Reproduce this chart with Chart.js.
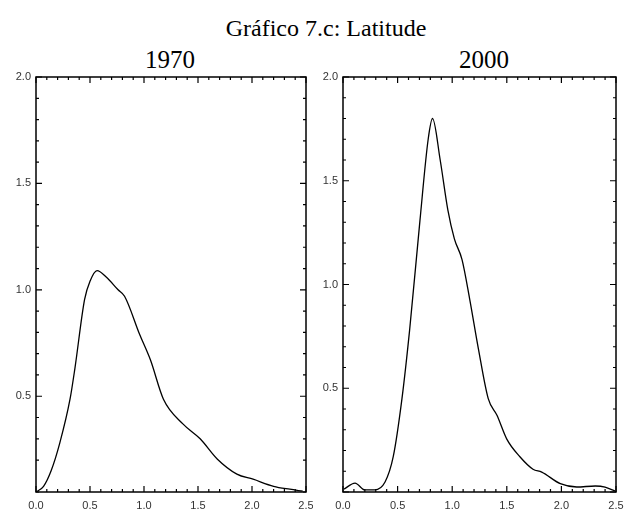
<!DOCTYPE html>
<html>
<head>
<meta charset="utf-8">
<script src="https://cdn.jsdelivr.net/npm/chart.js@4/dist/chart.umd.min.js"></script>
<style>
  body { margin: 0; background: #fff; }
  #wrap { position: relative; width: 626px; height: 510px; }
  .ttl { position: absolute; font-family: "Liberation Serif", serif; color: #000; white-space: nowrap; transform: translateX(-50%); line-height: 1; }
  canvas { position: absolute; top: 0; }
</style>
</head>
<body>
<div id="wrap">
  <div class="ttl" style="left:326px; top:16px; font-size:24px;">Gráfico 7.c: Latitude</div>
  <div class="ttl" style="left:170px; top:47px; font-size:25px;">1970</div>
  <div class="ttl" style="left:484px; top:47px; font-size:25px;">2000</div>
  <canvas id="chart-1970" width="313" height="510" style="left:0"></canvas>
  <canvas id="chart-2000" width="313" height="510" style="left:313px"></canvas>
</div>
<script>
// latitude (x) and density (y)
const lat1970 = [0.0, 0.07, 0.14, 0.22, 0.315, 0.36, 0.45, 0.5, 0.565, 0.65, 0.76, 0.82, 0.96, 1.06, 1.18, 1.36, 1.52, 1.68, 1.86, 2.01, 2.2, 2.35, 2.47];
const dens1970 = [0.05, 0.077, 0.15, 0.28, 0.486, 0.63, 0.955, 1.04, 1.09, 1.06, 1.0, 0.97, 0.79, 0.67, 0.486, 0.37, 0.30, 0.204, 0.134, 0.11, 0.077, 0.063, 0.054];

const lat2000 = [0.01, 0.11, 0.2, 0.29, 0.385, 0.46, 0.54, 0.61, 0.705, 0.78, 0.82, 0.89, 0.96, 1.02, 1.09, 1.16, 1.24, 1.33, 1.41, 1.50, 1.62, 1.74, 1.82, 1.99, 2.14, 2.31, 2.40, 2.49];
const dens2000 = [0.014, 0.043, 0.01, 0.01, 0.048, 0.17, 0.45, 0.78, 1.31, 1.70, 1.80, 1.6, 1.36, 1.22, 1.12, 0.93, 0.69, 0.45, 0.37, 0.255, 0.17, 0.11, 0.096, 0.04, 0.024, 0.029, 0.024, 0.005];

const xRange = [0, 2.5];
const yMax = 2.0;

function isMajor(v) {
    return Math.abs(v * 2 - Math.round(v * 2)) < 1e-6;
}

// IDL style box with inward ticks
const boxTicks = {
    id: 'boxTicks',
    afterDraw(chart) {
        const ctx = chart.ctx;
        const a = chart.chartArea;
        ctx.save();
        ctx.strokeStyle = '#000';
        ctx.lineWidth = 1.5;
        ctx.strokeRect(a.left, a.top, a.right - a.left, a.bottom - a.top);
        ctx.lineWidth = 1.2;
        ctx.beginPath();
        chart.scales.x.ticks.forEach(t => {
            const px = chart.scales.x.getPixelForValue(t.value);
            const len = isMajor(t.value) ? 6 : 3;
            ctx.moveTo(px, a.bottom); ctx.lineTo(px, a.bottom - len);
            ctx.moveTo(px, a.top); ctx.lineTo(px, a.top + len);
        });
        chart.scales.y.ticks.forEach(t => {
            const py = chart.scales.y.getPixelForValue(t.value);
            const len = isMajor(t.value) ? 6 : 3;
            ctx.moveTo(a.left, py); ctx.lineTo(a.left + len, py);
            ctx.moveTo(a.right, py); ctx.lineTo(a.right - len, py);
        });
        ctx.stroke();
        ctx.restore();
    }
};

function d2c_densityChart(id, xs, ys, yMin, axisW, padRight) {
    const el = document.getElementById(id);
    new Chart(el, {
        type: 'line',
        data: {
            datasets: [{
                data: xs.map((x, i) => ({x: x, y: ys[i]})),
                borderColor: '#000',
                borderWidth: 1.3,
                pointRadius: 0,
                cubicInterpolationMode: 'monotone',
                fill: false
            }]
        },
        options: {
            responsive: false,
            animation: false,
            layout: { padding: { left: 0, right: padRight, top: 77, bottom: 0 } },
            plugins: { legend: { display: false }, tooltip: { enabled: false } },
            scales: {
                x: {
                    type: 'linear',
                    min: xRange[0],
                    max: xRange[1],
                    grid: { display: false, drawTicks: false },
                    border: { display: false },
                    afterFit(s) { s.height = 18; s.paddingLeft = 0; s.paddingRight = 0; },
                    ticks: {
                        stepSize: 0.1,
                        autoSkip: false,
                        maxRotation: 0,
                        padding: 7,
                        color: '#333',
                        font: { family: 'Liberation Sans', size: 11 },
                        callback: v => isMajor(v) ? v.toFixed(1) : ''
                    }
                },
                y: {
                    min: yMin,
                    max: yMax,
                    grid: { display: false, drawTicks: false },
                    border: { display: false },
                    afterFit(s) { s.width = axisW; s.paddingTop = 0; s.paddingBottom = 0; },
                    ticks: {
                        stepSize: 0.1,
                        autoSkip: false,
                        padding: 5,
                        color: '#333',
                        font: { family: 'Liberation Sans', size: 11 },
                        callback: v => (isMajor(v) && v > 0.01) ? v.toFixed(1) : ''
                    }
                }
            }
        },
        plugins: [boxTicks]
    });
}

d2c_densityChart('chart-1970', lat1970, dens1970, 0.05, 36, 7);
d2c_densityChart('chart-2000', lat2000, dens2000, 0.0, 30, 10);
</script>
</body>
</html>
